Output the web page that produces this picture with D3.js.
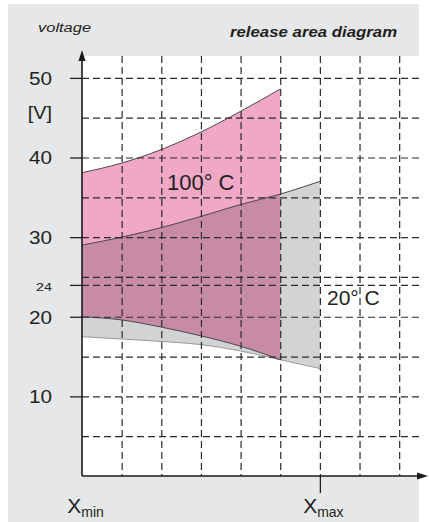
<!DOCTYPE html>
<html><head><meta charset="utf-8">
<script src="https://cdn.jsdelivr.net/npm/d3@7"></script>
<style>
html,body{margin:0;padding:0;background:#fff;}
svg{display:block;}
text{font-family:"Liberation Sans", Arial, sans-serif; fill:#231f20;}
</style></head><body>
<svg id="chart" width="429" height="522"></svg>
<script>
// ---- data ----
const xSteps = [0, 1, 2, 3, 4, 5, 6];
const hot100Upper = [38.1, 39.3, 41.0, 43.2, 45.8, 48.6];
const hot100Lower = [20.0, 19.6, 18.7, 17.6, 16.3, 14.6];
const cold20Upper = [29.0, 30.0, 31.2, 32.6, 34.1, 35.4, 37.0];
const cold20Lower = [17.5, 17.2, 16.9, 16.5, 15.7, 14.6, 13.5];
const yTickValues = [10, 20, 24, 30, 40, 50];
const yGridValues = [5, 10, 15, 20, 24, 25, 30, 35, 40, 45, 50];
const xGridValues = [1, 2, 3, 4, 5, 6, 7, 8];
const xTickPositions = [0, 6];
const xTickSubs = ["min", "max"];
const seriesLabels = ["100° C", "20° C"];

// ---- layout ----
const svg = d3.select("#chart");
const L = 82, R = 419, T = 56, B = 476;
const x = d3.scaleLinear().domain([0, 8.5]).range([L, R]);
const y = d3.scaleLinear().domain([0, 52.75]).range([B, T]);

const cPanel = "#e6e7e8", cPink = "#f0a8c6", cGray = "#d2d3d5", cMauve = "#c88ba6";

svg.append("rect").attr("x", 8).attr("y", 4).attr("width", R - 8).attr("height", 522 - 4).attr("fill", cPanel);
svg.append("rect").attr("x", L).attr("y", T).attr("width", R - L).attr("height", B - T).attr("fill", "#fff");

const hotData = hot100Upper.map((v, i) => ({x: xSteps[i], hi: v, lo: hot100Lower[i]}));
const coldData = cold20Upper.map((v, i) => ({x: xSteps[i], hi: v, lo: cold20Lower[i]}));
const curve = d3.curveMonotoneX;
const area = d3.area().x(d => x(d.x)).y0(d => y(d.lo)).y1(d => y(d.hi)).curve(curve);
const lineHi = d3.line().x(d => x(d.x)).y(d => y(d.hi)).curve(curve);
const lineLo = d3.line().x(d => x(d.x)).y(d => y(d.lo)).curve(curve);

const defs = svg.append("defs");
defs.append("clipPath").attr("id", "coldClip").append("path").attr("d", area(coldData));

svg.append("path").attr("d", area(coldData)).attr("fill", cGray);
svg.append("path").attr("d", area(hotData)).attr("fill", cPink);
svg.append("path").attr("d", area(hotData)).attr("fill", cMauve).attr("clip-path", "url(#coldClip)");

svg.append("path").attr("d", lineLo(coldData)).attr("fill", "none").attr("stroke", "#9a9a9c").attr("stroke-width", 1);
svg.append("path").attr("d", lineHi(coldData)).attr("fill", "none").attr("stroke", "#4a4a4a").attr("stroke-width", 1);
svg.append("path").attr("d", lineHi(hotData)).attr("fill", "none").attr("stroke", "#4a4a4a").attr("stroke-width", 1);
svg.append("path").attr("d", lineLo(hotData)).attr("fill", "none").attr("stroke", "#4a4a4a").attr("stroke-width", 1);

// ---- grid (via axes) ----
const gridStyle = g => {
  g.select(".domain").remove();
  g.selectAll("text").remove();
  g.selectAll("line").attr("stroke", "#2b2b2b").attr("stroke-width", 1.2).attr("stroke-dasharray", "7,4");
};
svg.append("g").attr("transform", `translate(${L},0)`)
  .call(d3.axisRight(y).tickValues(yGridValues).tickSize(R - L))
  .call(gridStyle);
svg.append("g").attr("transform", `translate(0,${T})`)
  .call(d3.axisBottom(x).tickValues(xGridValues).tickSize(B - T))
  .call(gridStyle);

// ---- y axis ----
const yAx = svg.append("g").attr("transform", `translate(${L},0)`)
  .call(d3.axisLeft(y).tickValues(yTickValues).tickSize(12).tickPadding(18));
yAx.select(".domain").remove();
yAx.selectAll("line").attr("stroke", "#222").attr("stroke-width", 1.3);
yAx.selectAll("text")
  .attr("dy", null)
  .attr("x", 0)
  .attr("y", 0)
  .attr("transform", d => d === 24 ? "translate(-30,5.5) scale(1.3,1)" : "translate(-30,6.3) scale(1.15,1)")
  .style("font-size", d => d === 24 ? "11px" : "18px")
  .style("font-family", '"Liberation Sans", Arial, sans-serif')
  .attr("fill", "#231f20");

// ---- x axis tick ----
const xAx = svg.append("g").attr("transform", `translate(0,${B})`)
  .call(d3.axisBottom(x).tickValues([xTickPositions[1]]).tickSize(17).tickFormat(""));
xAx.select(".domain").remove();
xAx.selectAll("line").attr("stroke", "#222").attr("stroke-width", 1.3);

// axis lines with arrows
svg.append("line").attr("x1", L).attr("x2", L).attr("y1", B).attr("y2", 58).attr("stroke", "#1a1a1a").attr("stroke-width", 1.6);
svg.append("path").attr("d", `M${L},50 L${L-3.5},61 L${L+3.5},61 Z`).attr("fill", "#1a1a1a");
svg.append("line").attr("x1", L).attr("x2", 420).attr("y1", B).attr("y2", B).attr("stroke", "#1a1a1a").attr("stroke-width", 1.6);
svg.append("path").attr("d", `M428,${B} L417,${B-3.5} L417,${B+3.5} Z`).attr("fill", "#1a1a1a");

// ---- texts ----
svg.append("text").attr("transform", "translate(52,119) scale(1.1,1)").attr("text-anchor", "end").style("font-size", "18px").text("[V]");
svg.append("text").attr("transform", "translate(38,32) scale(1.22,1)").style("font-size", "13.5px").style("font-style", "italic").text("voltage");
svg.append("text").attr("transform", "translate(230,37) scale(1.2,1)").style("font-size", "14px").style("font-style", "italic").style("font-weight", "bold").text("release area diagram");

svg.append("text").attr("x", 167).attr("y", 190).style("font-size", "22px").text(seriesLabels[0]);
svg.append("text").attr("x", 327).attr("y", 305).style("font-size", "21px").text(seriesLabels[1]);

xTickPositions.forEach((p, i) => {
  const t = svg.append("text").attr("x", x(p) + 3.5).attr("y", 512.5).attr("text-anchor", "middle").style("font-size", "21px");
  t.append("tspan").text("X");
  t.append("tspan").attr("dy", 4.5).style("font-size", "14px").text(xTickSubs[i]);
});
</script>
</body></html>
